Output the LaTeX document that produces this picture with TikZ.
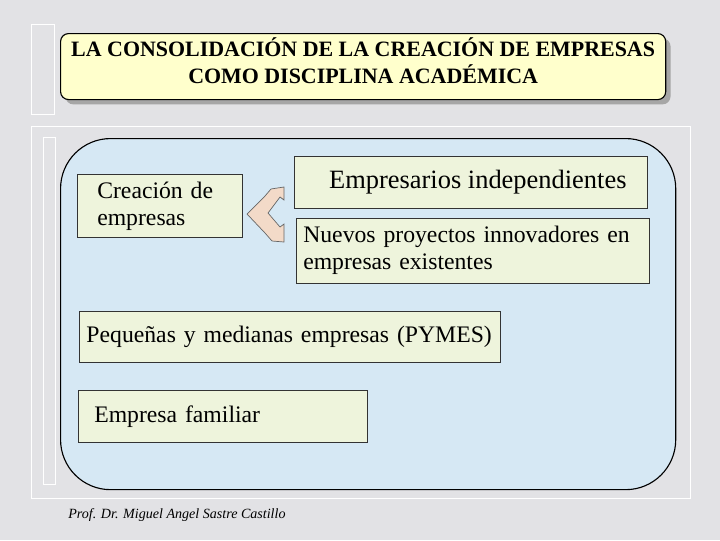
\documentclass[tikz,border=0pt]{standalone}
\usepackage{fontspec}
\setmainfont{Liberation Serif}
\newfontfamily\slidefont{Liberation Serif}
\usepackage{tikz}
\usetikzlibrary{shadows}
\definecolor{marble}{RGB}{226,226,229}
\definecolor{titlefill}{RGB}{255,255,204}
\definecolor{panelfill}{RGB}{214,232,244}
\definecolor{boxfill}{RGB}{238,244,220}
\definecolor{arrowfill}{RGB}{243,218,200}
\tikzset{Slide/.style = {% styles of this slide
    title/.style = {draw=black, thick, fill=titlefill, rounded corners=2mm,
                    anchor=north west, align=center, inner sep=0pt, text depth=9pt,
                    font=\slidefont\fontsize{15.6pt}{19.2pt}\selectfont\bfseries,
                    drop shadow={shadow xshift=1.2mm, shadow yshift=-1.2mm,
                                 fill=gray!70, opacity=1}},
    panel/.style = {draw=black, thick, fill=panelfill, rounded corners=12.5mm,
                    anchor=north west, inner sep=0pt},
      box/.style = {draw=black!80, fill=boxfill, anchor=north west,
                    font=\slidefont\fontsize{16.85pt}{19.2pt}\selectfont},
    frame/.style = {draw=white, line width=0.6pt},
    chevron/.style = {draw=gray!80!black, fill=arrowfill, line width=0.5pt}}
        }

\begin{document}
\begin{tikzpicture}[Slide, x=0.025cm, y=-0.025cm]
\useasboundingbox[fill=marble] (0,0) rectangle (720,540);

% frames
\draw[frame] (31,24) rectangle (54,114);
\draw[frame] (31,126) rectangle (690,498);
\draw[frame] (43,137) rectangle (55,484);

% nodes
\node (head)  [title, minimum width=151.25mm, minimum height=16.5mm] at (60,33)
      {LA CONSOLIDACIÓN DE LA CREACIÓN DE EMPRESAS\\COMO DISCIPLINA ACADÉMICA};
\node (panel) [panel, minimum width=153.75mm, minimum height=87.75mm] at (60,138) {};
\node (crea)  [box, minimum height=15.75mm, text width=31.25mm, inner xsep=5mm, align=left] at (77,174)
      {Creación de\\empresas};
\node (indep) [box, minimum width=88.25mm, minimum height=13mm, align=center,
               font=\slidefont\fontsize{18.8pt}{22pt}\selectfont] at (294,156)
      {\hspace*{3.5mm}Empresarios independientes};
\node (nuevo) [box, minimum height=16.25mm, text width=84.75mm, inner xsep=1.75mm, align=left] at (296,218)
      {Nuevos proyectos innovadores en\\empresas existentes};
\node (pymes) [box, minimum height=12.75mm, text width=101.6mm, inner xsep=1.8mm, align=left] at (79,311)
      {Pequeñas y medianas empresas (PYMES)};
\node (famil) [box, minimum height=13mm, text width=64.25mm, inner xsep=4mm, align=left] at (78,390)
      {Empresa familiar};
\node (autor) [anchor=west, inner sep=0pt, font=\slidefont\fontsize{10pt}{12pt}\selectfont\itshape] at (68,515)
      {Prof. Dr. Miguel Angel Sastre Castillo};

% double arrow
\draw[chevron] (247,214) -- (265,196) -- (271,189) -- (284,187) -- (284,200)
      -- (280,197) -- (268,213) -- (280,227) -- (284,224) -- (284,242)
      -- (272,241) -- (265,233) -- cycle;

\end{tikzpicture}
\end{document}
